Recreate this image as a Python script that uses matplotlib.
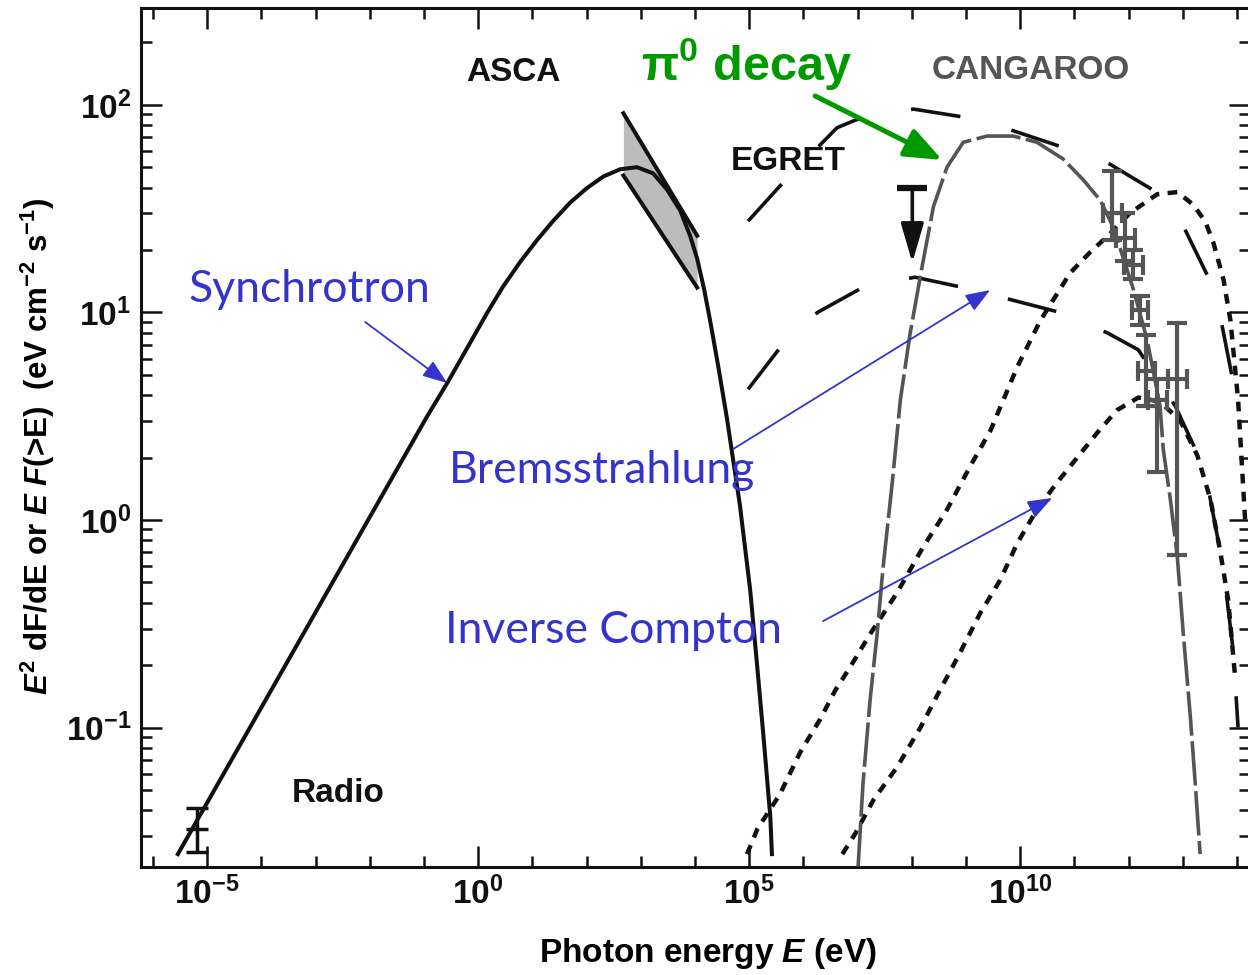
import numpy as np
import matplotlib
matplotlib.use('Agg')
import matplotlib.pyplot as plt
from matplotlib.ticker import FixedLocator, FixedFormatter, NullFormatter

plt.rcParams['font.family'] = ['Liberation Sans', 'DejaVu Sans']
plt.rcParams['font.weight'] = 'bold'
plt.rcParams['mathtext.fontset'] = 'custom'
plt.rcParams['mathtext.rm'] = 'Liberation Sans:bold'
plt.rcParams['mathtext.it'] = 'Liberation Sans:bold:italic'
plt.rcParams['mathtext.bf'] = 'Liberation Sans:bold'
plt.rcParams['lines.scale_dashes'] = False

# ---- data (log10 of photon energy in eV, log10 of E^2 dF/dE) ----
sync_logE = [-5.54, -0.94, -0.57, 0.17, 0.46, 0.78, 1.09, 1.38, 1.70, 2.01, 2.31, 2.62, 2.93, 3.23, 3.49,
             3.73, 3.91, 4.04, 4.17, 4.28, 4.43, 4.59, 4.83, 5.02, 5.15, 5.26, 5.39, 5.42]
sync_logF = [-1.61, 0.50, 0.66, 1.00, 1.125, 1.245, 1.35, 1.44, 1.53, 1.60, 1.655, 1.69, 1.70, 1.67, 1.59,
             1.49, 1.37, 1.26, 1.11, 0.96, 0.74, 0.49, 0.07, -0.34, -0.71, -1.03, -1.43, -1.61]

asca_logE = [2.68, 4.04]
asca_hi = [1.96, 1.37]
asca_lo = [1.66, 1.12]

egret_hi_logE = [4.98, 5.57, 6.62, 6.99, 8.03, 8.99, 9.82, 10.74, 11.62, 12.45, 13.04, 13.47, 13.73, 13.91]
egret_hi_logF = [1.44, 1.61, 1.89, 1.93, 1.98, 1.94, 1.88, 1.80, 1.72, 1.59, 1.40, 1.17, 0.93, 0.69]

egret_lo_logE = [4.98, 5.57, 6.26, 7.09, 8.06, 8.95, 9.85, 10.74, 11.62, 12.18, 12.86, 13.27, 13.45, 13.69, 13.82, 13.93, 14.02]
egret_lo_logF = [0.63, 0.83, 1.00, 1.12, 1.17, 1.12, 1.06, 1.00, 0.90, 0.82, 0.55, 0.32, 0.18, -0.15, -0.39, -0.63, -1.00]

pi_logE = [7.01, 7.10, 7.23, 7.36, 7.47, 7.64, 7.79, 7.97, 8.19, 8.40, 8.65, 8.95, 9.39, 9.87, 10.31,
           10.79, 11.16, 11.48, 11.72, 12.09, 12.34, 12.58, 12.64, 12.77, 12.90, 13.01, 13.14, 13.23, 13.32]
pi_logF = [-1.67, -1.27, -0.87, -0.55, -0.23, 0.18, 0.58, 0.90, 1.22, 1.51, 1.70, 1.82, 1.85, 1.85, 1.82,
           1.74, 1.64, 1.54, 1.41, 1.11, 0.87, 0.55, 0.34, 0.10, -0.18, -0.55, -0.95, -1.27, -1.61]

brems_logE = [4.96, 5.15, 5.57, 5.94, 6.31, 6.59, 6.86, 7.23, 7.73, 8.21, 8.65, 9.08, 9.45, 9.95, 10.37,
              10.92, 11.29, 11.66, 12.03, 12.53, 12.90, 13.19, 13.41, 13.56, 13.75, 13.88, 14.02, 14.15]
brems_logF = [-1.61, -1.49, -1.32, -1.12, -0.96, -0.82, -0.71, -0.55, -0.35, -0.13, 0.05, 0.26, 0.43, 0.74, 0.96,
              1.19, 1.29, 1.38, 1.48, 1.57, 1.58, 1.52, 1.44, 1.34, 1.16, 0.96, 0.58, 0.0]

ic_logE = [6.72, 6.96, 7.29, 7.73, 8.16, 8.52, 8.89, 9.26, 9.63, 9.95, 10.31, 10.68, 11.05, 11.42, 11.79,
           12.18, 12.58, 12.95, 13.27, 13.51, 13.69, 13.84, 13.97]
ic_logF = [-1.61, -1.51, -1.35, -1.19, -1.00, -0.82, -0.64, -0.45, -0.29, -0.11, 0.05, 0.18, 0.30, 0.42, 0.53,
           0.59, 0.57, 0.48, 0.31, 0.10, -0.15, -0.39, -0.77]

cang_logE = [11.70, 11.94, 12.09, 12.21, 12.33, 12.53, 12.90]
cang_logF = [1.48, 1.36, 1.23, 1.01, 0.72, 0.58, 0.68]
cang_logF_hi = [1.68, 1.48, 1.30, 1.08, 0.89, 0.68, 0.95]
cang_logF_lo = [1.35, 1.25, 1.16, 0.94, 0.55, 0.23, -0.17]
cang_dlogE = [0.18, 0.18, 0.18, 0.15, 0.15, 0.18, 0.18]

radio_logE, radio_logF, radio_hi, radio_lo = -5.19, -1.49, -1.39, -1.60
egret_ul_logE, egret_ul_cap, egret_ul_tip = 8.01, 1.60, 1.24

x_ticks = [1e-5, 1e0, 1e5, 1e10]
x_labels = [r'$10^{-5}$', r'$10^{0}$', r'$10^{5}$', r'$10^{10}$']
y_ticks = [1e-1, 1e0, 1e1, 1e2]
y_labels = [r'$10^{-1}$', r'$10^{0}$', r'$10^{1}$', r'$10^{2}$']


def p(a):
    return 10 ** np.asarray(a, dtype=float)


black = '#111111'
grey = '#555555'
blue = '#3434cc'
green = '#009a00'

fig = plt.figure(figsize=(12.48, 9.75), dpi=100)
ax = fig.add_axes([141 / 1248, 1 - 867 / 975, (1250 - 141) / 1248, (867 - 8) / 975])
ax.set_xscale('log')
ax.set_yscale('log')
ax.set_xlim(10 ** -6.22, 10 ** 14.24)
ax.set_ylim(10 ** -1.672, 10 ** 2.467)

# ASCA bow tie
ax.fill_between(p(asca_logE), p(asca_lo), p(asca_hi), color='#bcbcbc', lw=0, zorder=1)

# synchrotron
ax.plot(p(sync_logE), p(sync_logF), color=black, lw=2.9, solid_joinstyle='round', zorder=3)
ax.plot(p(asca_logE), p(asca_hi), color=black, lw=2.9, zorder=3)
ax.plot(p(asca_logE), p(asca_lo), color=black, lw=2.9, zorder=3)

# long-dashed model curves
ax.plot(p(egret_hi_logE), p(egret_hi_logF), color=black, lw=2.6, dashes=(36, 38), zorder=3)
ax.plot(p(egret_lo_logE), p(egret_lo_logF), color=black, lw=2.6, dashes=(36, 37), zorder=3)

# bremsstrahlung and inverse Compton (dotted)
ax.plot(p(brems_logE), p(brems_logF), color=black, lw=3.2, dashes=(7, 6), dash_capstyle='butt', zorder=3)
ax.plot(p(ic_logE), p(ic_logF), color=black, lw=3.2, dashes=(7, 6), dash_capstyle='butt', zorder=3)

# pi0 decay
ax.plot(p(pi_logE), p(pi_logF), color=grey, lw=2.6, dashes=(32, 4), zorder=4)

# CANGAROO points
cE = p(cang_logE)
cF = p(cang_logF)
yerr = [cF - p(cang_logF_lo), p(cang_logF_hi) - cF]
xerr = [cE - p(np.array(cang_logE) - np.array(cang_dlogE)), p(np.array(cang_logE) + np.array(cang_dlogE)) - cE]
ax.errorbar(cE, cF, yerr=yerr, xerr=xerr, fmt='none', ecolor=grey, elinewidth=3, capsize=7, capthick=3, zorder=5)

# radio point
ax.errorbar([10 ** radio_logE], [10 ** radio_logF],
            yerr=[[10 ** radio_logF - 10 ** radio_lo], [10 ** radio_hi - 10 ** radio_logF]],
            fmt='_', color=black, ms=16, mew=2.5, elinewidth=2.5, capsize=8, capthick=2.5, zorder=5)

# EGRET upper limit
ax.plot([10 ** egret_ul_logE], [10 ** egret_ul_cap], marker='_', ms=21, mew=4.5, color=black, zorder=5)
ax.annotate('', xy=(10 ** egret_ul_logE, 10 ** egret_ul_tip), xytext=(10 ** egret_ul_logE, 10 ** egret_ul_cap),
            arrowprops=dict(arrowstyle='-|>,head_length=1.2,head_width=0.35', mutation_scale=20,
                            color=black, lw=2.6, shrinkA=0, shrinkB=0), zorder=5)

# axes styling
for s in ax.spines.values():
    s.set_linewidth(2.2)
    s.set_color(black)
ax.xaxis.set_major_locator(FixedLocator(x_ticks))
ax.xaxis.set_major_formatter(FixedFormatter(x_labels))
ax.xaxis.set_minor_locator(FixedLocator([10.0 ** k for k in range(-6, 15)]))
ax.xaxis.set_minor_formatter(NullFormatter())
ax.yaxis.set_major_locator(FixedLocator(y_ticks))
ax.yaxis.set_major_formatter(FixedFormatter(y_labels))
ax.yaxis.set_minor_locator(FixedLocator([m * 10.0 ** k for k in range(-2, 3) for m in range(2, 10)]))
ax.yaxis.set_minor_formatter(NullFormatter())
ax.tick_params(which='both', direction='in', top=True, right=True, width=1.8, colors=black, labelsize=24)
ax.tick_params(which='major', length=15, pad=7)
ax.tick_params(which='minor', length=8)

ax.set_xlabel(r'Photon energy $E$ (eV)', fontsize=24, fontweight='bold')
ax.set_ylabel(r'$E^2$ dF/dE or $E$ $F$(>E)  (eV cm$^{-2}$ s$^{-1}$)', fontsize=22.5, fontweight='bold')
ax.xaxis.set_label_coords(0.511, -0.08)
ax.yaxis.set_label_coords(-0.076, 0.49)

# labels
lab = dict(fontsize=24, fontweight='bold', ha='center', va='baseline')
ax.text(10 ** 0.646, 10 ** 2.116, 'ASCA', color=black, **lab)
ax.text(10 ** 5.720, 10 ** 1.687, 'EGRET', color=black, **lab)
ax.text(10 ** 10.203, 10 ** 2.125, 'CANGAROO', color=grey, **lab)
ax.text(10 ** -2.583, 10 ** -1.359, 'Radio', color=black, **lab)
ax.text(10 ** 4.945, 10 ** 2.120, 'π$^{0}$ decay', fontsize=35, fontweight='bold', color=green,
        ha='center', va='baseline')

blue_font = dict(family=['Lato', 'DejaVu Sans'], fontweight='normal', color=blue, ha='center', va='baseline',
                 fontsize=32)
ax.text(10 ** -3.118, 10 ** 1.051, 'Synchrotron', **blue_font)
ax.text(10 ** 2.288, 10 ** 0.178, 'Bremsstrahlung', **blue_font)
ax.text(10 ** 2.491, 10 ** -0.593, 'Inverse Compton', **blue_font)

blue_arrow = dict(arrowstyle='-|>,head_length=0.75,head_width=0.28', mutation_scale=20, color=blue, lw=1.3,
                  shrinkA=0, shrinkB=0)
ax.annotate('', xy=(10 ** -0.572, 10 ** 0.660), xytext=(10 ** -2.085, 10 ** 0.954), arrowprops=blue_arrow, zorder=6)
ax.annotate('', xy=(10 ** 9.446, 10 ** 1.108), xytext=(10 ** 4.705, 10 ** 0.342), arrowprops=blue_arrow, zorder=6)
ax.annotate('', xy=(10 ** 10.590, 10 ** 0.106), xytext=(10 ** 6.365, 10 ** -0.487), arrowprops=blue_arrow, zorder=6)
ax.annotate('', xy=(10 ** 8.561, 10 ** 1.735), xytext=(10 ** 6.218, 10 ** 2.043),
            arrowprops=dict(arrowstyle='-|>,head_length=0.9,head_width=0.36', mutation_scale=25, color=green,
                            lw=3.6, shrinkA=0, shrinkB=0), zorder=6)

fig.savefig('out.png', dpi=100, facecolor='white')
